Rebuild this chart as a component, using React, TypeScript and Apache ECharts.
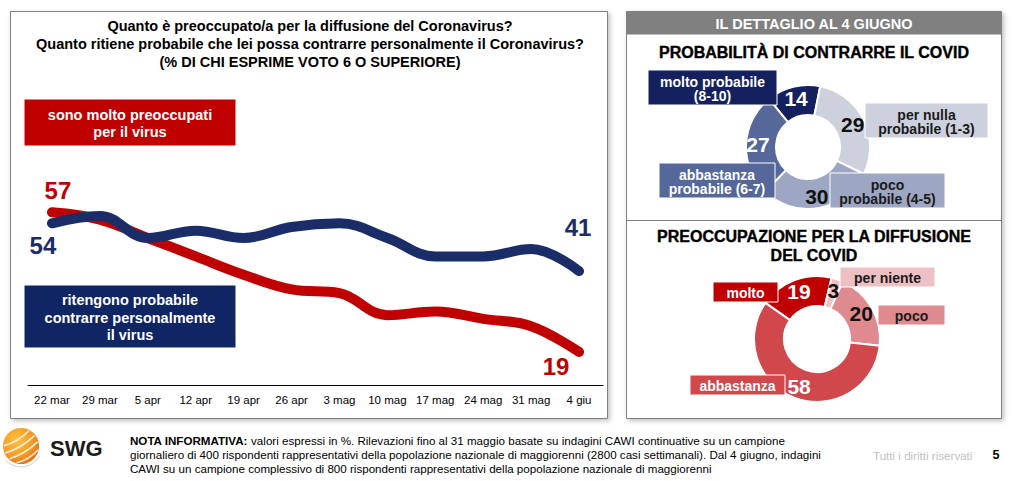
import React, { useEffect, useRef } from 'react';
import * as echarts from 'echarts';

// ---------- data ----------
const dates = ['22 mar', '29 mar', '5 apr', '12 apr', '19 apr', '26 apr', '3 mag', '10 mag', '17 mag', '24 mag', '31 mag', '4 giu'];
const preoccupati = [57, 55, 50, 45, 40, 36, 35, 29, 30, 28, 26, 19];
const probabile = [54, 56, 50, 52, 50, 53, 54, 50, 45, 45, 47, 41];

const probNames = ['molto probabile (8-10)', 'per nulla probabile (1-3)', 'poco probabile (4-5)', 'abbastanza probabile (6-7)'];
const probValues = [14, 29, 30, 27];
const preoNames = ['molto', 'per niente', 'poco', 'abbastanza'];
const preoValues = [19, 3, 20, 58];

// ---------- styles ----------
const FONT = '"Liberation Sans", Arial, Helvetica, sans-serif';
const RED = '#C00000';
const NAVY = '#1B2D69';
const NAVY_BOX = '#102563';
const probColors = ['#14215E', '#CDD1DD', '#9DA6C2', '#56679A'];
const probLabelColors = ['#ffffff', '#111111', '#111111', '#ffffff'];
const preoColors = ['#C00000', '#EDC0C4', '#DF8A8F', '#D0474C'];
const preoLabelColors = ['#ffffff', '#111111', '#111111', '#ffffff'];

function lineData(values: number[], first: any, last: any) {
  return values.map((v, i) => {
    if (i === 0) return { value: v, label: { show: true, ...first } };
    if (i === values.length - 1) return { value: v, label: { show: true, ...last } };
    return v;
  });
}

function box(x: number, y: number, w: number, h: number, fill: string, text: string, color: string, fontSize: number, lineHeight: number) {
  return [
    { type: 'rect', z: 10, shape: { x, y, width: w, height: h }, style: { fill, stroke: '#ffffff', lineWidth: 1 } },
    {
      type: 'text', z: 11, x: x + w / 2, y: y + h / 2 + 1,
      style: { text, fill: color, fontFamily: FONT, fontWeight: 'bold', fontSize, lineHeight, textAlign: 'center', textVerticalAlign: 'middle' },
    },
  ];
}

function logoStripes(cx: number, cy: number, r: number) {
  const u = [0.857, -0.514];
  const n = [0.514, 0.857];
  const out: any[] = [];
  [-9, -2, 5, 12].forEach((d) => {
    const h = Math.sqrt(Math.max(r * r - d * d, 0)) - 1;
    const mx = cx + d * n[0];
    const my = cy + d * n[1];
    out.push({
      type: 'bezierCurve', z: 6,
      shape: {
        x1: mx - h * u[0], y1: my - h * u[1],
        x2: mx + h * u[0], y2: my + h * u[1],
        cpx1: mx + 4 * n[0], cpy1: my + 4 * n[1],
      },
      style: { stroke: 'rgba(255,255,255,0.85)', lineWidth: 1.6, fill: null },
    });
  });
  return out;
}

function pieData(names: string[], values: number[], colors: string[], labelColors: string[]) {
  return names.map((name, i) => ({
    name,
    value: values[i],
    itemStyle: { color: colors[i] },
    label: { color: labelColors[i] },
  }));
}

export default function App() {
  const ref = useRef<HTMLDivElement>(null);

  useEffect(() => {
    if (!ref.current) return;
    const chart = echarts.init(ref.current, undefined, { renderer: 'svg' });

    const lineLabel = { fontFamily: FONT, fontWeight: 'bold', fontSize: 24 };

    const option: any = {
      animation: false,
      backgroundColor: '#ffffff',
      grid: { left: 28, right: 411, top: 91, bottom: 96, containLabel: false },
      xAxis: {
        type: 'category',
        data: dates,
        boundaryGap: true,
        axisLine: { show: true, lineStyle: { color: '#000000', width: 1 } },
        axisTick: { show: false },
        axisLabel: { interval: 0, color: '#000000', fontSize: 11.5, fontFamily: FONT, margin: 9 },
        splitLine: { show: false },
      },
      yAxis: { type: 'value', min: 10, max: 90, show: false, splitLine: { show: false } },
      series: [
        {
          type: 'line',
          name: 'sono molto preoccupati per il virus',
          data: lineData(preoccupati, { position: 'top', offset: [6, -4] }, { position: 'bottom', offset: [-23, -3] }),
          smooth: 0.4,
          symbol: 'circle',
          symbolSize: 1,
          showSymbol: true,
          itemStyle: { color: RED },
          lineStyle: { color: RED, width: 10, cap: 'round', join: 'round' },
          label: { show: false, color: RED, ...lineLabel },
          silent: true,
          z: 2,
        },
        {
          type: 'line',
          name: 'ritengono probabile contrarre personalmente il virus',
          data: lineData(probabile, { position: 'bottom', offset: [-9, 5] }, { position: 'top', offset: [-1, -26] }),
          smooth: 0.4,
          symbol: 'circle',
          symbolSize: 1,
          showSymbol: true,
          itemStyle: { color: NAVY },
          lineStyle: { color: NAVY, width: 10, cap: 'round', join: 'round' },
          label: { show: false, color: NAVY, ...lineLabel },
          silent: true,
          z: 3,
        },
        {
          type: 'pie',
          name: 'PROBABILITÀ DI CONTRARRE IL COVID',
          center: [808, 147],
          radius: [32, 62],
          startAngle: 129,
          clockwise: true,
          avoidLabelOverlap: false,
          silent: true,
          itemStyle: { borderColor: '#ffffff', borderWidth: 2 },
          label: { show: true, position: 'inside', formatter: '{c}', fontFamily: FONT, fontWeight: 'bold', fontSize: 21 },
          labelLine: { show: false },
          emphasis: { disabled: true },
          data: pieData(probNames, probValues, probColors, probLabelColors),
          z: 4,
        },
        {
          type: 'pie',
          name: 'PREOCCUPAZIONE PER LA DIFFUSIONE DEL COVID',
          center: [817, 339],
          radius: [33, 63],
          startAngle: 145,
          clockwise: true,
          avoidLabelOverlap: false,
          silent: true,
          itemStyle: { borderColor: '#ffffff', borderWidth: 2 },
          label: { show: true, position: 'inside', formatter: '{c}', fontFamily: FONT, fontWeight: 'bold', fontSize: 21 },
          labelLine: { show: false },
          emphasis: { disabled: true },
          data: pieData(preoNames, preoValues, preoColors, preoLabelColors),
          z: 4,
        },
      ],
      graphic: [
        // left panel
        {
          type: 'rect', z: -5, silent: true,
          shape: { x: 10.5, y: 11.5, width: 597, height: 407 },
          style: { fill: '#ffffff', stroke: '#808080', lineWidth: 1, shadowBlur: 5, shadowOffsetX: 2, shadowOffsetY: 2, shadowColor: 'rgba(0,0,0,0.25)' },
        },
        // right panel
        {
          type: 'rect', z: -5, silent: true,
          shape: { x: 626.5, y: 11.5, width: 375, height: 407 },
          style: { fill: '#ffffff', stroke: '#808080', lineWidth: 1, shadowBlur: 5, shadowOffsetX: 2, shadowOffsetY: 2, shadowColor: 'rgba(0,0,0,0.25)' },
        },
        { type: 'rect', z: -4, silent: true, shape: { x: 626.5, y: 11.5, width: 375, height: 23 }, style: { fill: '#808080' } },
        { type: 'line', z: -4, silent: true, shape: { x1: 626.5, y1: 220.5, x2: 1001.5, y2: 220.5 }, style: { stroke: '#808080', lineWidth: 1 } },
        {
          type: 'text', z: 5, x: 814, y: 23.5,
          style: { text: 'IL DETTAGLIO AL 4 GIUGNO', fill: '#ffffff', fontFamily: FONT, fontWeight: 'bold', fontSize: 14.5, textAlign: 'center', textVerticalAlign: 'middle' },
        },
        {
          type: 'text', z: 5, x: 814, y: 52,
          style: { text: 'PROBABILITÀ DI CONTRARRE IL COVID', fill: '#000000', stroke: '#000000', lineWidth: 0.4, fontFamily: FONT, fontWeight: 'bold', fontSize: 16, textAlign: 'center', textVerticalAlign: 'middle' },
        },
        {
          type: 'text', z: 5, x: 814, y: 246,
          style: { text: 'PREOCCUPAZIONE PER LA DIFFUSIONE\nDEL COVID', fill: '#000000', stroke: '#000000', lineWidth: 0.4, lineHeight: 18.5, fontFamily: FONT, fontWeight: 'bold', fontSize: 16, textAlign: 'center', textVerticalAlign: 'middle' },
        },
        // left title
        {
          type: 'text', z: 5, x: 310, y: 43.5,
          style: {
            text: 'Quanto è preoccupato/a per la diffusione del Coronavirus?\nQuanto ritiene probabile che lei possa contrarre personalmente il Coronavirus?\n(% DI CHI ESPRIME VOTO 6 O SUPERIORE)',
            fill: '#000000', fontFamily: FONT, fontWeight: 'bold', fontSize: 14.5, lineHeight: 18, textAlign: 'center', textVerticalAlign: 'middle',
          },
        },
        // left boxes
        ...box(24, 99, 212, 47, RED, 'sono molto preoccupati\nper il virus', '#ffffff', 14.5, 17),
        ...box(24, 285, 212, 63, NAVY_BOX, 'ritengono probabile\ncontrarre personalmente\nil virus', '#ffffff', 14.5, 17.5),
        // pie 1 boxes
        ...box(648, 70, 129, 35, probColors[0], 'molto probabile\n(8-10)', '#ffffff', 14, 14),
        ...box(865, 103, 123, 35, probColors[1], 'per nulla\nprobabile (1-3)', '#1a1a1a', 14, 14),
        ...box(659, 163, 116, 35, probColors[3], 'abbastanza\nprobabile (6-7)', '#ffffff', 14, 14),
        ...box(830, 173, 115, 35, probColors[2], 'poco\nprobabile (4-5)', '#1a1a1a', 14, 14),
        // pie 2 boxes
        ...box(713, 282, 65, 20, preoColors[0], 'molto', '#ffffff', 14, 16),
        ...box(840, 267, 95, 20, preoColors[1], 'per niente', '#1a1a1a', 14, 16),
        ...box(878, 305, 67, 20, preoColors[2], 'poco', '#1a1a1a', 14, 16),
        ...box(690, 375, 95, 20, preoColors[3], 'abbastanza', '#ffffff', 14, 16),
        // footer logo
        {
          type: 'circle', z: 5, silent: true,
          shape: { cx: 21, cy: 446, r: 18 },
          style: {
            fill: new echarts.graphic.RadialGradient(0.38, 0.35, 0.75, [
              { offset: 0, color: '#FFC247' },
              { offset: 0.6, color: '#F59A22' },
              { offset: 1, color: '#E2660E' },
            ]),
          },
        },
        ...logoStripes(21, 446, 18),
        {
          type: 'arc', z: 6, silent: true,
          shape: { cx: 21, cy: 446, r: 21, startAngle: Math.PI * 0.15, endAngle: Math.PI * 0.75 },
          style: { stroke: '#cfcfcf', lineWidth: 1, fill: null },
        },
        {
          type: 'text', z: 5, x: 50, y: 448,
          style: { text: 'SWG', fill: '#1a1a1a', fontFamily: FONT, fontWeight: 'bold', fontSize: 22, textAlign: 'left', textVerticalAlign: 'middle' },
        },
        {
          type: 'text', z: 5, x: 130, y: 433,
          style: {
            text: '{b|NOTA INFORMATIVA:} valori espressi in %. Rilevazioni fino al 31 maggio basate su indagini CAWI continuative su un campione\ngiornaliero di 400 rispondenti rappresentativi della popolazione nazionale di maggiorenni (2800 casi settimanali). Dal 4 giugno, indagini\nCAWI su un campione complessivo di 800 rispondenti rappresentativi della popolazione nazionale di maggiorenni',
            fill: '#000000', fontFamily: FONT, fontSize: 11.6, lineHeight: 14, textAlign: 'left', textVerticalAlign: 'top',
            rich: { b: { fontFamily: FONT, fontSize: 11.6, fontWeight: 'bold', fill: '#000000', lineHeight: 14 } },
          },
        },
        {
          type: 'text', z: 5, x: 873, y: 455,
          style: { text: 'Tutti i diritti riservati', fill: '#BFBFBF', fontFamily: FONT, fontSize: 11.6, textAlign: 'left', textVerticalAlign: 'middle' },
        },
        {
          type: 'text', z: 5, x: 996, y: 455,
          style: { text: '5', fill: '#000000', fontFamily: FONT, fontWeight: 'bold', fontSize: 12.5, textAlign: 'center', textVerticalAlign: 'middle' },
        },
      ],
    };

    chart.setOption(option);
    return () => chart.dispose();
  }, []);

  return <div ref={ref} style={{ position: 'absolute', left: 0, top: 0, width: 1014, height: 481, background: '#fff' }} />;
}
